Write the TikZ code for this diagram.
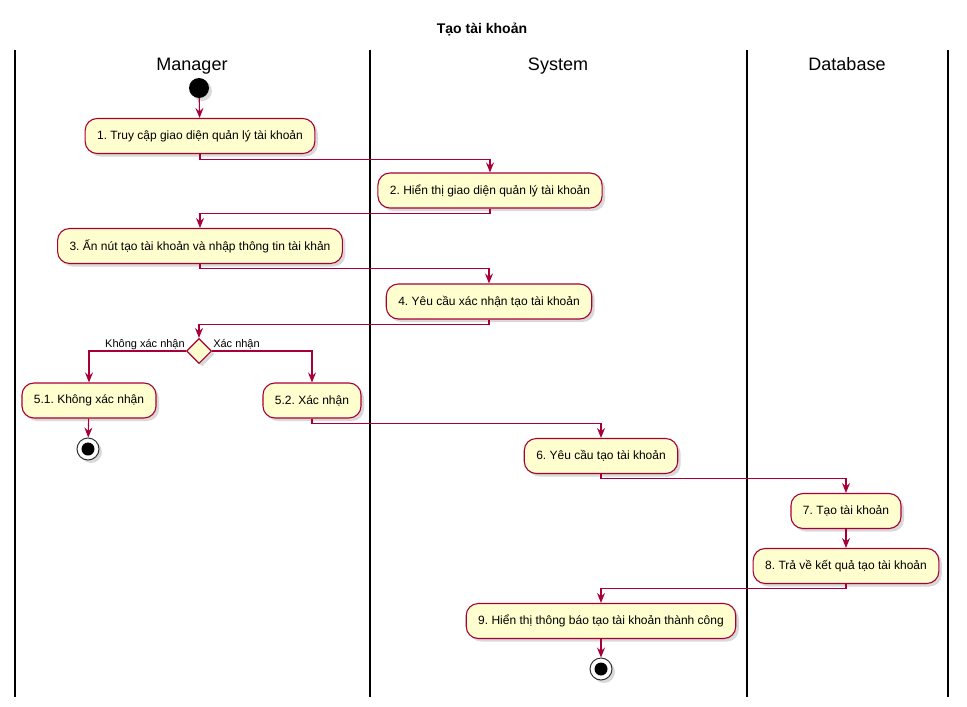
\documentclass[tikz,border=0pt]{standalone}
\usepackage{fontspec}
\setmainfont{Liberation Sans}
\usetikzlibrary{arrows.meta,shapes.geometric,shadows}
\frenchspacing

\definecolor{umlred}{HTML}{A80036}
\definecolor{umlfill}{HTML}{FEFECE}

\tikzset{
  shade/.style={drop shadow={opacity=0.3,shadow xshift=3pt,shadow yshift=-3pt}},
  act/.style={draw=umlred,fill=umlfill,line width=1.1pt,rounded corners=12pt,
    minimum height=35pt,inner xsep=12pt,font=\fontsize{12}{14}\selectfont,shade},
  flow/.style={draw=umlred,line width=1.1pt,-{Stealth[length=10pt,width=8pt,inset=3.5pt]}},
  lane/.style={draw=black,line width=1.6pt},
  lanetitle/.style={font=\fontsize{18}{21}\selectfont,anchor=base},
  startnode/.style={circle,fill=black,minimum size=20pt,inner sep=0pt,shade},
  endnode/.style={circle,draw=black!80,fill=white,line width=1pt,minimum size=22pt,inner sep=0pt,shade},
  choice/.style={diamond,draw=umlred,fill=umlfill,line width=1.1pt,minimum size=25pt,inner sep=0pt,shade},
  guard/.style={font=\fontsize{11}{13}\selectfont,inner sep=1pt}
}

\begin{document}
\begin{tikzpicture}[x=1pt,y=-1pt]
\useasboundingbox (0,0) rectangle (967,707);

% title
\node[font=\fontsize{14}{16}\selectfont\bfseries] (title) at (482,30) {Tạo tài khoản};

% swimlane borders
\coordinate (l0t) at (15,50);  \coordinate (l0b) at (15,697);
\coordinate (l1t) at (370,50); \coordinate (l1b) at (370,697);
\coordinate (l2t) at (747,50); \coordinate (l2b) at (747,697);
\coordinate (l3t) at (948,50); \coordinate (l3b) at (948,697);
\draw[lane] (l0t) -- (l0b);
\draw[lane] (l1t) -- (l1b);
\draw[lane] (l2t) -- (l2b);
\draw[lane] (l3t) -- (l3b);

% swimlane titles
\node[lanetitle] (mgr) at (192,70.5) {Manager};
\node[lanetitle] (sys) at (558,70.5) {System};
\node[lanetitle] (db) at (847,70.5) {Database};

% activities
\node[startnode] (start) at (199,88) {};
\node[act] (b1) at (200,136) {1. Truy cập giao diện quản lý tài khoản};
\node[act] (b2) at (490,190.5) {2. Hiển thị giao diện quản lý tài khoản};
\node[act] (b3) at (200,246) {3. Ấn nút tạo tài khoản và nhập thông tin tài khản};
\node[act] (b4) at (489,301.5) {4. Yêu cầu xác nhận tạo tài khoản};
\node[choice] (d) at (199,351) {};
\node[act] (b5a) at (89,400.5) {5.1. Không xác nhận};
\node[act] (b5b) at (312,400.5) {5.2. Xác nhận};
\node[endnode] (e1) at (88,449) {};
\fill[black] (e1) circle (6.5);
\node[act] (b6) at (601,456) {6. Yêu cầu tạo tài khoản};
\node[act] (b7) at (846,511) {7. Tạo tài khoản};
\node[act] (b8) at (846,566) {8. Trả về kết quả tạo tài khoản};
\node[act] (b9) at (601,621) {9. Hiển thị thông báo tạo tài khoản thành công};
\node[endnode] (e2) at (601,669) {};
\fill[black] (e2) circle (6.5);

% control flow
\draw[flow] (start) -- (b1);
\draw[flow] (b1.south) -- ++(0,5) -| (b2.north);
\draw[flow] (b2.south) -- ++(0,5) -| (b3.north);
\draw[flow] (b3.south) -- ++(0,4) -| (b4.north);
\draw[flow] (b4.south) -- ++(0,5) -| (d.north);
\draw[flow] (d.west) -| (b5a.north);
\draw[flow] (d.east) -| (b5b.north);
\node[guard,anchor=base east] (g1) at ([yshift=3.5pt]d.west) {Không xác nhận};
\node[guard,anchor=base west] (g2) at ([yshift=3.5pt]d.east) {Xác nhận};
\draw[flow] (b5a) -- (e1);
\draw[flow] (b5b.south) -- ++(0,5) -| (b6.north);
\draw[flow] (b6.south) -- ++(0,4) -| (b7.north);
\draw[flow] (b7) -- (b8);
\draw[flow] (b8.south) -- ++(0,4) -| (b9.north);
\draw[flow] (b9) -- (e2);
\end{tikzpicture}
\end{document}
